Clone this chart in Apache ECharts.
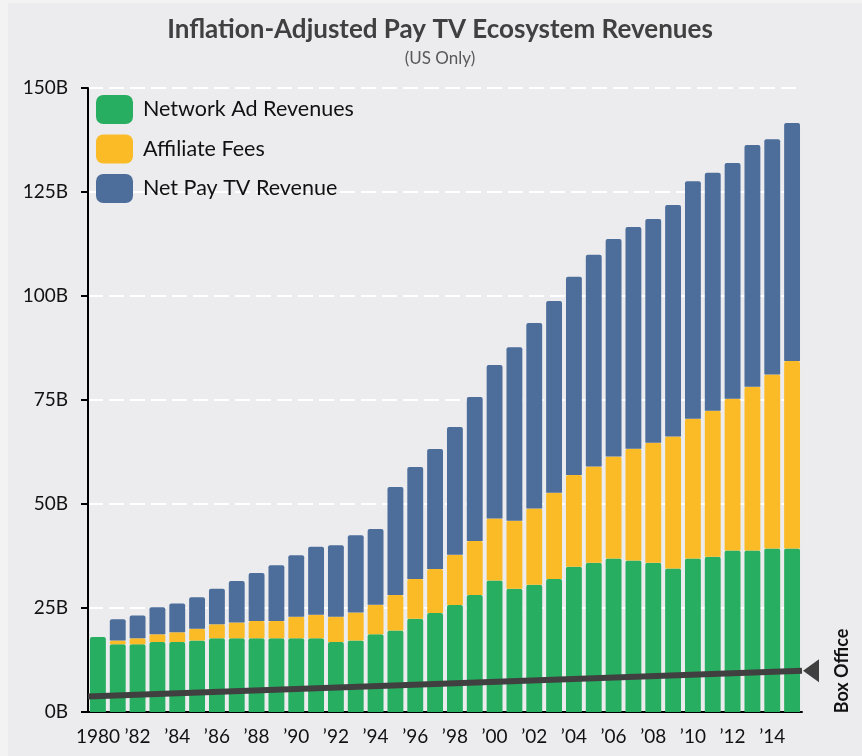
<!DOCTYPE html>
<html>
<head>
<meta charset="utf-8">
<script src="https://cdn.jsdelivr.net/npm/echarts@6/dist/echarts.min.js"></script>
<style>
  html, body { margin: 0; padding: 0; background: #f3f3f4; }
  #chart { width: 862px; height: 756px; }
</style>
</head>
<body>
<div id="chart"></div>
<script>
// Years on the category axis (label text as shown under each bar)
const years = ['1980', '’81', '’82', '’83', '’84', '’85', '’86', '’87', '’88', '’89',
  '’90', '’91', '’92', '’93', '’94', '’95', '’96', '’97', '’98', '’99',
  '’00', '’01', '’02', '’03', '’04', '’05', '’06', '’07', '’08', '’09',
  '’10', '’11', '’12', '’13', '’14', '’15'];

// Revenue components, billions of US dollars (inflation-adjusted)
const networkAd = [18.0, 16.3, 16.3, 16.8, 16.8, 17.2, 17.7, 17.7, 17.7, 17.7,
  17.7, 17.7, 16.8, 17.2, 18.7, 19.6, 22.4, 23.8, 25.7, 28.1,
  31.6, 29.6, 30.6, 32.0, 34.9, 35.9, 36.9, 36.4, 35.9, 34.5,
  36.9, 37.3, 38.8, 38.8, 39.3, 39.3];
const affiliateFees = [0, 0.9, 1.4, 1.9, 2.4, 2.8, 3.4, 3.8, 4.2, 4.2,
  5.2, 5.7, 6.1, 6.7, 7.1, 8.5, 9.6, 10.6, 12.1, 13.0,
  14.9, 16.4, 18.3, 20.7, 22.1, 23.1, 24.5, 26.9, 28.8, 31.7,
  33.6, 35.1, 36.5, 39.4, 41.8, 45.1];
const netPayTV = [0, 5.1, 5.5, 6.5, 6.9, 7.6, 8.5, 10.0, 11.5, 13.4,
  14.8, 16.3, 17.2, 18.6, 18.2, 26.0, 26.9, 28.8, 30.7, 34.6,
  36.9, 41.7, 44.6, 46.1, 47.6, 50.9, 52.3, 53.3, 53.8, 55.7,
  57.1, 57.2, 56.7, 58.1, 56.6, 57.2];

// Box office trend line: start and end values across the plot width
const boxOfficeTrend = [3.7, 9.9];

// Y axis ticks
const yTicks = { min: 0, max: 150, interval: 25 };

const FONT = 'Lato, "Open Sans", sans-serif';
const COLORS = { ad: '#27ae60', aff: '#fbbb27', net: '#4d6d9b', box: '#404040' };

const chart = echarts.init(document.getElementById('chart'), null, { renderer: 'canvas' });

const barRadius = [2, 2, 0, 0];

chart.setOption({
  backgroundColor: '#f3f3f4',
  animation: false,
  textStyle: { fontFamily: FONT },
  graphic: [
    // panel behind the chart
    { type: 'rect', left: 8, top: 3, z: -10, silent: true,
      shape: { width: 854, height: 753 }, style: { fill: '#ececee' } },
    // side caption for the box office line
    { type: 'text', x: 842, y: 671, rotation: Math.PI / 2, silent: true,
      style: { text: 'Box Office', align: 'center', verticalAlign: 'middle',
               font: 'bold 18px ' + FONT, fill: '#111' } }
  ],
  title: [
    {
      text: 'Inflation-Adjusted Pay TV Ecosystem Revenues',
      left: 440, top: 17, textAlign: 'center', padding: 0,
      textStyle: { fontFamily: FONT, fontSize: 26, fontWeight: 'bold', color: '#404040' }
    },
    {
      text: '(US Only)',
      left: 440, top: 50, textAlign: 'center', padding: 0,
      textStyle: { fontFamily: FONT, fontSize: 17, fontWeight: 'normal', color: '#595959' }
    }
  ],
  legend: {
    data: ['Network Ad Revenues', 'Affiliate Fees', 'Net Pay TV Revenue'],
    orient: 'vertical',
    left: 96, top: 95,
    padding: 0,
    itemWidth: 37, itemHeight: 29, itemGap: 10.5,
    icon: 'roundRect',
    selectedMode: false,
    textStyle: { fontFamily: FONT, fontSize: 21.5, color: '#111', padding: [0, 0, 0, 5] }
  },
  grid: { left: 88, right: 60, top: 88, bottom: 44, containLabel: false },
  xAxis: [
    {
      type: 'category',
      data: years,
      boundaryGap: true,
      axisLine: { show: true, lineStyle: { color: '#000', width: 2 } },
      axisTick: { show: false },
      axisLabel: { interval: 1, margin: 15, fontSize: 19, color: '#111', fontFamily: FONT },
      splitLine: { show: false }
    },
    { type: 'value', min: 0, max: 1, show: false }
  ],
  yAxis: {
    type: 'value',
    min: yTicks.min, max: yTicks.max, interval: yTicks.interval,
    axisLine: { show: true, lineStyle: { color: '#000', width: 2 } },
    axisTick: { show: true, length: 7, lineStyle: { color: '#000', width: 2 } },
    axisLabel: { margin: 20, fontSize: 19, color: '#111', fontFamily: FONT, formatter: v => v + 'B' },
    splitLine: { show: true, lineStyle: { color: '#ffffff', width: 2, type: [15, 6] } }
  },
  series: [
    {
      name: 'Network Ad Revenues', type: 'bar', stack: 'rev', data: networkAd,
      barCategoryGap: '20%',
      itemStyle: { color: COLORS.ad, borderRadius: barRadius }
    },
    {
      name: 'Affiliate Fees', type: 'bar', stack: 'rev', data: affiliateFees,
      itemStyle: { color: COLORS.aff, borderRadius: barRadius }
    },
    {
      name: 'Net Pay TV Revenue', type: 'bar', stack: 'rev', data: netPayTV,
      itemStyle: { color: COLORS.net, borderRadius: barRadius }
    },
    {
      name: 'Box Office', type: 'line', xAxisIndex: 1, z: 5,
      data: [
        { value: [0, boxOfficeTrend[0]], symbol: 'none' },
        {
          value: [1, boxOfficeTrend[1]],
          symbol: 'triangle', symbolSize: [23, 16], symbolRotate: 90, symbolOffset: [9, 0],
          itemStyle: { color: COLORS.box }
        }
      ],
      lineStyle: { color: COLORS.box, width: 6 },
      itemStyle: { color: COLORS.box },
      silent: true
    }
  ]
});
</script>
</body>
</html>
